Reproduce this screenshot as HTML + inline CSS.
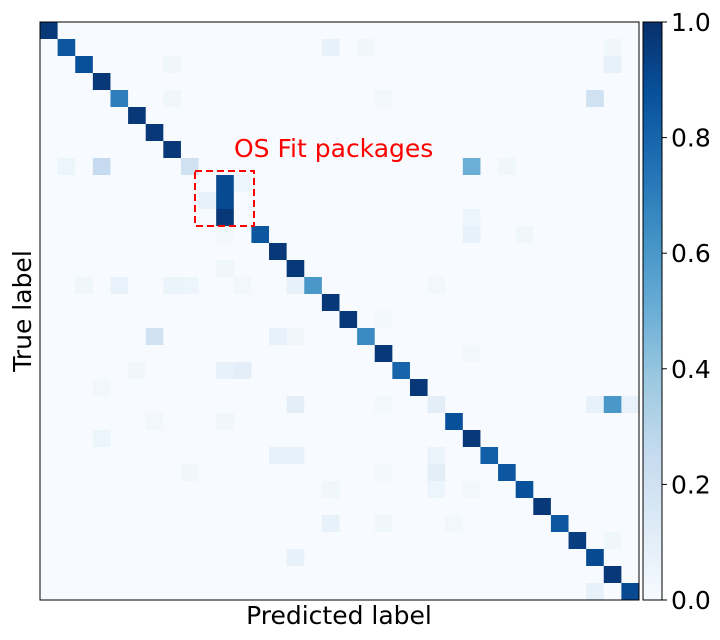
<!DOCTYPE html>
<html><head><meta charset="utf-8"><style>
html,body{margin:0;padding:0;background:#fff;}
svg{display:block;font-family:"DejaVu Sans","Liberation Sans",sans-serif;}
</style></head><body>
<svg id="chart" width="720" height="640" viewBox="0 0 720 640" xmlns="http://www.w3.org/2000/svg">
<defs>
<linearGradient id="cbgrad" x1="0" y1="1" x2="0" y2="0">
<stop offset="0" stop-color="#f7fbff"/><stop offset="0.125" stop-color="#deebf7"/><stop offset="0.25" stop-color="#c6dbef"/><stop offset="0.375" stop-color="#9ecae1"/><stop offset="0.5" stop-color="#6baed6"/><stop offset="0.625" stop-color="#4292c6"/><stop offset="0.75" stop-color="#2171b5"/><stop offset="0.875" stop-color="#08519c"/><stop offset="1" stop-color="#08306b"/>
</linearGradient>
</defs>
<g id="cells"></g>
<rect x="40" y="22" width="599" height="578" fill="none" stroke="#000" stroke-width="1"/>
<rect x="643" y="22" width="19" height="578" fill="url(#cbgrad)" stroke="#000" stroke-width="1"/>
<g id="cbticks"></g>
<text x="0" y="0" transform="translate(31,311) rotate(-90)" text-anchor="middle" font-size="25" fill="#000">True label</text>
<text x="339" y="624" text-anchor="middle" font-size="25" fill="#000">Predicted label</text>
<rect x="195" y="171" width="59" height="55" fill="none" stroke="#ff0000" stroke-width="2" stroke-dasharray="7,4"/>
<text x="234" y="157" font-size="25" fill="#ff0000">OS Fit packages</text>
</svg>
<script>
const nClasses = 34;
const diagValues = [0.97,0.85,0.88,0.97,0.7,0.97,0.97,0.97,0.2,0,0,0,0.85,0.97,0.97,0.6,0.97,0.97,0.65,0.97,0.8,0.97,0.1,0.88,0.97,0.82,0.85,0.88,0.97,0.85,0.95,0.9,0.97,0.9];
const offRows = [1,1,1,2,2,4,4,4,8,8,8,8,9,9,10,10,11,11,12,12,12,14,15,15,15,15,15,15,15,17,18,18,18,19,20,20,20,21,22,22,22,22,22,23,23,24,25,25,25,26,26,26,27,27,27,29,29,29,30,31,33];
const offCols = [16,18,32,7,32,7,19,31,1,3,24,26,10,11,9,10,10,24,10,24,27,10,2,4,7,8,11,14,22,19,6,13,14,24,5,10,11,3,14,19,31,32,33,6,10,3,13,14,22,8,19,22,16,22,24,16,19,23,32,14,31];
const offVals = [0.08,0.04,0.04,0.04,0.08,0.04,0.03,0.2,0.05,0.25,0.5,0.04,0.9,0.05,0.08,0.9,0.97,0.05,0.03,0.08,0.04,0.04,0.04,0.07,0.06,0.05,0.03,0.08,0.03,0.03,0.2,0.08,0.04,0.03,0.04,0.08,0.1,0.03,0.1,0.03,0.08,0.6,0.07,0.03,0.04,0.05,0.08,0.08,0.06,0.04,0.03,0.1,0.04,0.05,0.03,0.08,0.04,0.03,0.04,0.08,0.08];
const cbTickValues = [0.0,0.2,0.4,0.6,0.8,1.0];
const cbTickLabels = ["0.0","0.2","0.4","0.6","0.8","1.0"];

const NS = "http://www.w3.org/2000/svg";
const X0 = 40, X1 = 639, Y0 = 22, Y1 = 600;
const cw = (X1 - X0) / nClasses, ch = (Y1 - Y0) / nClasses;
function xScale(c){ return X0 + c * cw; }
function yScale(r){ return Y0 + r * ch; }
function cbScale(v){ return Y1 - v * (Y1 - Y0); }
const stops = [[247,251,255],[222,235,247],[198,219,239],[158,202,225],[107,174,214],[66,146,198],[33,113,181],[8,81,156],[8,48,107]];
function color(v){
  v = Math.max(0, Math.min(1, v));
  const t = v * 8, i = Math.min(7, Math.floor(t)), f = t - i;
  const a = stops[i], b = stops[i+1];
  return "rgb(" + a.map((x,k)=>Math.round(x + (b[k]-x)*f)).join(",") + ")";
}
const M = [];
for (let r = 0; r < nClasses; r++){ M.push(new Array(nClasses).fill(0)); M[r][r] = diagValues[r]; }
for (let k = 0; k < offRows.length; k++){ M[offRows[k]][offCols[k]] = offVals[k]; }
const g = document.getElementById("cells");
for (let r = 0; r < nClasses; r++){
  for (let c = 0; c < nClasses; c++){
    const rect = document.createElementNS(NS, "rect");
    rect.setAttribute("x", xScale(c));
    rect.setAttribute("y", yScale(r));
    rect.setAttribute("width", cw + 0.4);
    rect.setAttribute("height", ch + 0.4);
    rect.setAttribute("fill", color(M[r][c]));
    
    
    g.appendChild(rect);
  }
}
const tg = document.getElementById("cbticks");
for (let i = 0; i < cbTickValues.length; i++){
  const y = cbScale(cbTickValues[i]);
  const ln = document.createElementNS(NS, "line");
  ln.setAttribute("x1", 662); ln.setAttribute("x2", 667);
  ln.setAttribute("y1", y); ln.setAttribute("y2", y);
  ln.setAttribute("stroke", "#000");
  
  
  tg.appendChild(ln);
  const tx = document.createElementNS(NS, "text");
  tx.setAttribute("x", 671); tx.setAttribute("y", y + 9);
  tx.setAttribute("font-size", "25");
  tx.textContent = cbTickLabels[i];
  
  
  tg.appendChild(tx);
}
</script>
</body></html>
